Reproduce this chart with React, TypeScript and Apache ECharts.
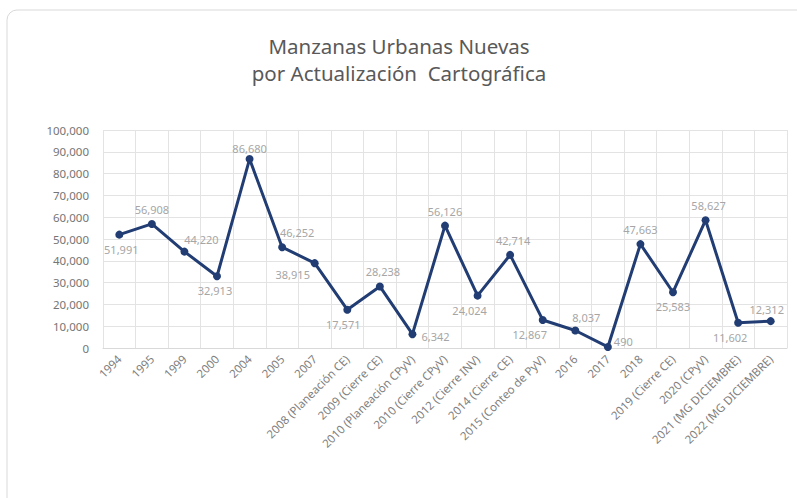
import React, { useEffect, useRef } from "react";
import * as echarts from "echarts";

const categories: string[] = [
  "1994",
  "1995",
  "1999",
  "2000",
  "2004",
  "2005",
  "2007",
  "2008 (Planeación CE)",
  "2009 (Cierre CE)",
  "2010 (Planeación CPyV)",
  "2010 (Cierre CPyV)",
  "2012 (Cierre INV)",
  "2014 (Cierre CE)",
  "2015 (Conteo de PyV)",
  "2016",
  "2017",
  "2018",
  "2019 (Cierre CE)",
  "2020 (CPyV)",
  "2021 (MG DICIEMBRE)",
  "2022 (MG DICIEMBRE)",
];

const values: number[] = [
  51991, 56908, 44220, 32913, 86680, 46252, 38915, 17571, 28238, 6342, 56126,
  24024, 42714, 12867, 8037, 490, 47663, 25583, 58627, 11602, 12312,
];

const yTicks = { min: 0, max: 100000, interval: 10000 };

// label placement per point: [position, dx, dy]
const labelPlacement: [string, number, number][] = [
  ["bottom", 2, 0],
  ["top", 0, 0],
  ["top", 17, 2],
  ["bottom", -2, 0],
  ["top", 0, 4],
  ["top", 15, 0],
  ["bottom", -22, -3],
  ["bottom", -4, 0],
  ["top", 3, 0],
  ["right", 0, 2],
  ["top", 0, 0],
  ["bottom", -8, 0],
  ["top", 3, 0],
  ["bottom", -13, 0],
  ["top", 11, 2],
  ["right", -3, -5],
  ["top", 0, 0],
  ["bottom", 0, 0],
  ["top", 3, 0],
  ["bottom", -8, 0],
  ["top", -4, 3],
];

const FONT = "'Noto Sans', sans-serif";

export default function App() {
  const ref = useRef<HTMLDivElement>(null);
  useEffect(() => {
    if (!ref.current) return;
    const chart = echarts.init(ref.current, undefined, { renderer: "svg" });
    const fmt = (v: number) => v.toLocaleString("en-US");
    chart.setOption({
      animation: false,
      backgroundColor: "#ffffff",
      textStyle: { fontFamily: FONT },
      title: {
        text: "Manzanas Urbanas Nuevas\npor Actualización  Cartográfica",
        left: 394,
        textAlign: "center",
        top: 27,
        textStyle: {
          fontFamily: FONT,
          fontSize: 20.5,
          fontWeight: "normal",
          color: "#595959",
          lineHeight: 27,
        },
      },
      graphic: [
        {
          type: "rect",
          shape: { x: 7, y: 10, width: 830, height: 530, r: 10 },
          style: { fill: "none", stroke: "#d9d9d9", lineWidth: 1 },
          silent: true,
        },
      ],
      grid: { left: 103, right: 10, top: 130, bottom: 150, containLabel: false },
      xAxis: {
        type: "category",
        data: categories,
        boundaryGap: true,
        axisLine: { show: true, lineStyle: { color: "#d9d9d9" } },
        axisTick: { show: false },
        splitLine: { show: true, lineStyle: { color: "#e3e3e3" } },
        axisLabel: {
          interval: 0,
          rotate: 45,
          fontSize: 11.5,
          color: "#7f7f7f",
          fontFamily: FONT,
          margin: 9,
        },
      },
      yAxis: {
        type: "value",
        min: yTicks.min,
        max: yTicks.max,
        interval: yTicks.interval,
        axisLine: { show: false },
        axisTick: { show: false },
        splitLine: { show: true, lineStyle: { color: "#e3e3e3" } },
        axisLabel: {
          fontSize: 11.5,
          color: "#757575",
          fontFamily: FONT,
          margin: 14,
          formatter: (v: number) => fmt(v),
        },
      },
      series: [
        {
          type: "line",
          data: values.map((v, i) => ({
            value: v,
            label: {
              position: labelPlacement[i][0],
              offset: [labelPlacement[i][1], labelPlacement[i][2]],
            },
          })),
          symbol: "circle",
          symbolSize: 8,
          lineStyle: { color: "#213d73", width: 3 },
          itemStyle: { color: "#213d73" },
          label: {
            show: true,
            fontSize: 11,
            color: "#a6a6a6",
            fontFamily: FONT,
            formatter: (p: any) => fmt(p.value),
          },
        },
      ],
    });
    return () => chart.dispose();
  }, []);
  return (
    <div
      ref={ref}
      style={{ position: "fixed", left: 0, top: 0, width: 797, height: 498 }}
    />
  );
}
